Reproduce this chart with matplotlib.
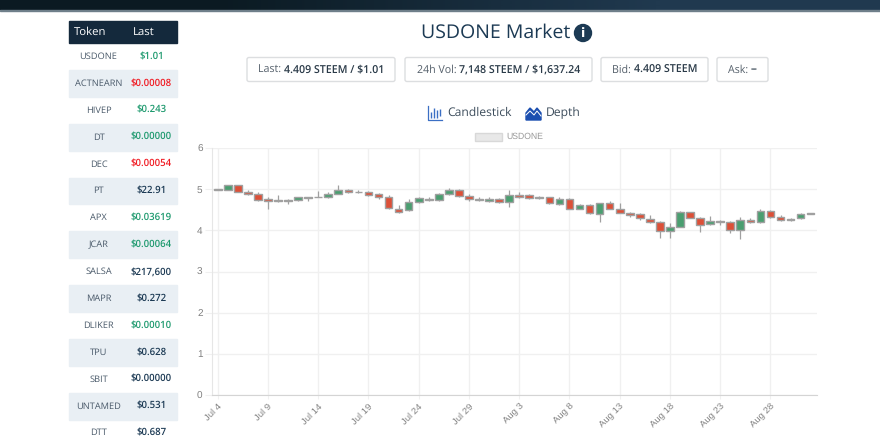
"""USDONE market page: token list on the left, daily candlesticks on the right."""
import matplotlib
matplotlib.use("Agg")
import matplotlib.pyplot as plt
from matplotlib.colors import LinearSegmentedColormap
from matplotlib.patches import Rectangle, FancyBboxPatch, Circle, Polygon

plt.rcParams["text.hinting"] = "no_hinting"

W, H = 880, 444
UI_FONT = "Open Sans"
NAVY = "#1c3a54"
GREEN = "#4a9e70"
RED = "#dc5038"
CANDLE_EDGE = "#a0a0a0"
GRID = "#f0f0f0"

TOKENS = ["USDONE", "ACTNEARN", "HIVEP", "DT", "DEC", "PT", "APX", "JCAR", "SALSA",
          "MAPR", "DLIKER", "TPU", "SBIT", "UNTAMED", "DTT"]
LAST = ["$1.01", "$0.00008", "$0.243", "$0.00000", "$0.00054", "$22.91", "$0.03619",
        "$0.00064", "$217,600", "$0.272", "$0.00010", "$0.628", "$0.00000", "$0.531", "$0.687"]
LAST_COLORS = ["#1f9a6f", "#f01c24", "#1f9a6f", "#1f9a6f", "#f01c24", NAVY, "#1f9a6f",
               "#1f9a6f", NAVY, NAVY, "#1f9a6f", NAVY, NAVY, NAVY, NAVY]

STATS = [("Last: ", "4.409 STEEM / $1.01"), ("24h Vol: ", "7,148 STEEM / $1,637.24"),
         ("Bid: ", "4.409 STEEM"), ("Ask: ", "--")]

X_LABELS = ["Jul 4", "Jul 9", "Jul 14", "Jul 19", "Jul 24", "Jul 29", "Aug 3", "Aug 8",
            "Aug 13", "Aug 18", "Aug 23", "Aug 28"]
Y_TICKS = [0, 1, 2, 3, 4, 5, 6]

# one candle per day, Jul 4 to Sep 1
OPEN = [4.99, 4.99, 5.10, 4.94, 4.89, 4.75, 4.74, 4.74, 4.73, 4.81, 4.81, 4.81, 4.89, 4.99, 4.94,
        4.94, 4.88, 4.81, 4.52, 4.49, 4.69, 4.77, 4.74, 4.89, 4.98, 4.84, 4.76, 4.72, 4.76, 4.68,
        4.86, 4.85, 4.81, 4.80, 4.65, 4.76, 4.53, 4.61, 4.40, 4.66, 4.53, 4.43, 4.39, 4.28, 4.20,
        3.98, 4.09, 4.44, 4.30, 4.15, 4.23, 4.20, 4.00, 4.24, 4.20, 4.47, 4.32, 4.27, 4.29, 4.40]
HIGH = [5.01, 5.11, 5.11, 4.97, 4.92, 4.82, 4.85, 4.75, 4.82, 4.82, 4.95, 4.92, 5.11, 5.01, 4.97,
        4.95, 4.90, 4.85, 4.62, 4.75, 4.81, 4.80, 4.90, 5.02, 5.00, 4.89, 4.81, 4.80, 4.78, 4.98,
        4.92, 4.89, 4.83, 4.82, 4.81, 4.78, 4.65, 4.63, 4.67, 4.72, 4.67, 4.45, 4.41, 4.38, 4.22,
        4.19, 4.46, 4.45, 4.33, 4.36, 4.24, 4.22, 4.33, 4.31, 4.53, 4.50, 4.38, 4.31, 4.41, 4.43]
LOW = [4.98, 4.98, 4.92, 4.85, 4.72, 4.52, 4.69, 4.63, 4.71, 4.71, 4.80, 4.79, 4.88, 4.91, 4.90,
       4.84, 4.75, 4.53, 4.43, 4.46, 4.67, 4.72, 4.72, 4.85, 4.81, 4.72, 4.71, 4.68, 4.66, 4.56,
       4.79, 4.77, 4.76, 4.64, 4.62, 4.52, 4.51, 4.40, 4.21, 4.51, 4.42, 4.33, 4.24, 4.19, 3.81,
       3.82, 4.07, 4.29, 3.95, 4.13, 4.13, 3.93, 3.78, 4.18, 4.18, 4.31, 4.22, 4.23, 4.27, 4.39]
CLOSE = [5.00, 5.09, 4.93, 4.89, 4.73, 4.72, 4.71, 4.72, 4.80, 4.79, 4.82, 4.89, 4.98, 4.93, 4.92,
         4.85, 4.81, 4.54, 4.44, 4.69, 4.79, 4.74, 4.88, 4.98, 4.83, 4.75, 4.73, 4.75, 4.68, 4.86,
         4.81, 4.79, 4.79, 4.66, 4.76, 4.53, 4.61, 4.43, 4.66, 4.53, 4.43, 4.38, 4.29, 4.20, 3.98,
         4.08, 4.44, 4.31, 4.13, 4.22, 4.20, 4.01, 4.24, 4.20, 4.47, 4.33, 4.24, 4.25, 4.40, 4.41]

fig = plt.figure(figsize=(W / 100, H / 100), dpi=100)
fig.patch.set_facecolor("white")

# page furniture is laid out in pixels on a full-figure axes
page = fig.add_axes([0, 0, 1, 1])
page.axis("off")

band = LinearSegmentedColormap.from_list("band", ["#0b1a22", "#20394f"])
page.imshow([[0, 1]], extent=(0, W, 10, 0), aspect="auto", cmap=band, interpolation="bilinear")
page.set_xlim(0, W)
page.set_ylim(H, 0)
page.add_patch(Rectangle((0, 10), W, 1, color="#6f7f8a"))

# token table
page.add_patch(Rectangle((69, 21), 108, 22, color="#14293c"))
page.text(90, 32, "Token", color="white", fontsize=8.2, family=UI_FONT, ha="center", va="center")
page.text(144, 32, "Last", color="white", fontsize=8.2, family=UI_FONT, ha="center", va="center")
for i, (token, last, col) in enumerate(zip(TOKENS, LAST, LAST_COLORS)):
    cy = 56.5 + i * 26.9
    if i % 2 == 1:
        page.add_patch(Rectangle((69, cy - 13.4), 108, 26.9, color="#e9eff4"))
    page.text(98.5, cy, token, color="#4a5a6a", fontsize=6.7, family=UI_FONT, ha="center", va="center")
    page.text(151.5, cy, last, color=col, fontsize=6.9, family=UI_FONT, weight="semibold",
              ha="center", va="center")

# heading
page.text(495.5, 32.5, "USDONE Market", color=NAVY, fontsize=14, family=UI_FONT, ha="center", va="center")
page.add_patch(Circle((583, 33), 8.5, color=NAVY))
page.text(583, 33, "i", color="white", fontsize=9, family="DejaVu Sans", weight="bold", ha="center", va="center")

# stat boxes
BOX_X = [(247, 395), (405, 592), (601, 708), (717, 768)]
for (x0, x1), (name, val) in zip(BOX_X, STATS):
    page.add_patch(FancyBboxPatch((x0, 57.5), x1 - x0, 24, boxstyle="round,pad=0,rounding_size=2",
                                  fc="white", ec="#dcdee0", lw=1))
    label = page.text((x0 + x1) / 2, 69.5, name, color="#55606b", fontsize=7.7, family=UI_FONT,
                      ha="right", va="center")
    value = page.text((x0 + x1) / 2, 69.5, val, color="#2a3a48", fontsize=7.7, family=UI_FONT,
                      weight="semibold", ha="left", va="center")
    # centre the pair in its box
    fig.canvas.draw()
    rend = fig.canvas.get_renderer()
    lw = label.get_window_extent(rend).width
    vw = value.get_window_extent(rend).width
    start = (x0 + x1) / 2 - (lw + vw) / 2
    label.set_x(start + lw)
    value.set_x(start + lw)

# chart type switch
page.text(479.5, 113, "Candlestick", color="#3d4d5c", fontsize=8.7, family=UI_FONT, ha="center", va="center")
page.text(563, 113, "Depth", color="#3d4d5c", fontsize=8.7, family=UI_FONT, ha="center", va="center")
page.plot([428, 428, 442], [106, 120, 120], color="#3b6fc4", lw=0.9)
page.vlines([431, 434, 437, 440], [112, 108, 110, 109], [118, 118, 118, 116], color="#3b6fc4", lw=1)
page.add_patch(Polygon([(526, 120), (526, 113), (530, 108), (534, 112), (537, 108), (541, 113), (541, 120)],
                       color="#1c4fb0"))
page.plot([526, 530, 534, 537, 541], [115, 111, 115, 111, 116], color="white", lw=0.7)

# legend
page.add_patch(Rectangle((474.5, 133), 27, 8, fc="#e8e8e8", ec="#d8d8d8", lw=1))
page.text(506, 136.5, "USDONE", color="#999999", fontsize=6.2, family="Liberation Sans", ha="left", va="center")

# candlestick chart
px_left, px_right, px_top, px_bottom = 212.3, 817.0, 148.0, 395.0
px_per_day, px_first = 10.05, 217.7
ax = fig.add_axes([px_left / W, 1 - px_bottom / H, (px_right - px_left) / W, (px_bottom - px_top) / H])
ax.patch.set_alpha(0)
ax.set_xlim((px_left - px_first) / px_per_day, (px_right - px_first) / px_per_day)
ax.set_ylim(0, 6)
ax.set_axisbelow(True)
ax.grid(True, color=GRID, lw=1)
for side in ("top", "right"):
    ax.spines[side].set_visible(False)
ax.spines["left"].set_color("#e6e6e6")
ax.spines["bottom"].set_color("#d4d4d4")

ax.set_xticks(range(0, 5 * len(X_LABELS), 5))
ax.set_xticklabels(X_LABELS, rotation=45, ha="right", rotation_mode="anchor",
                   fontsize=6.8, color="#808080", family="Liberation Sans")
ax.set_yticks(Y_TICKS)
ax.set_yticklabels([str(v) for v in Y_TICKS], fontsize=7.2, color="#808080", family="Liberation Sans")
ax.tick_params(axis="x", length=3, color=GRID, pad=2)
ax.tick_params(axis="y", length=5, color=GRID, pad=2)

for day, (o, h, l, c) in enumerate(zip(OPEN, HIGH, LOW, CLOSE)):
    ax.plot([day, day], [l, h], color=CANDLE_EDGE, lw=0.9, zorder=3, solid_capstyle="butt")
    ax.add_patch(Rectangle((day - 0.38, min(o, c)), 0.76, abs(c - o), fc=GREEN if c >= o else RED,
                           ec=CANDLE_EDGE, lw=1.0, zorder=4))

fig.savefig("out.png", dpi=100)
